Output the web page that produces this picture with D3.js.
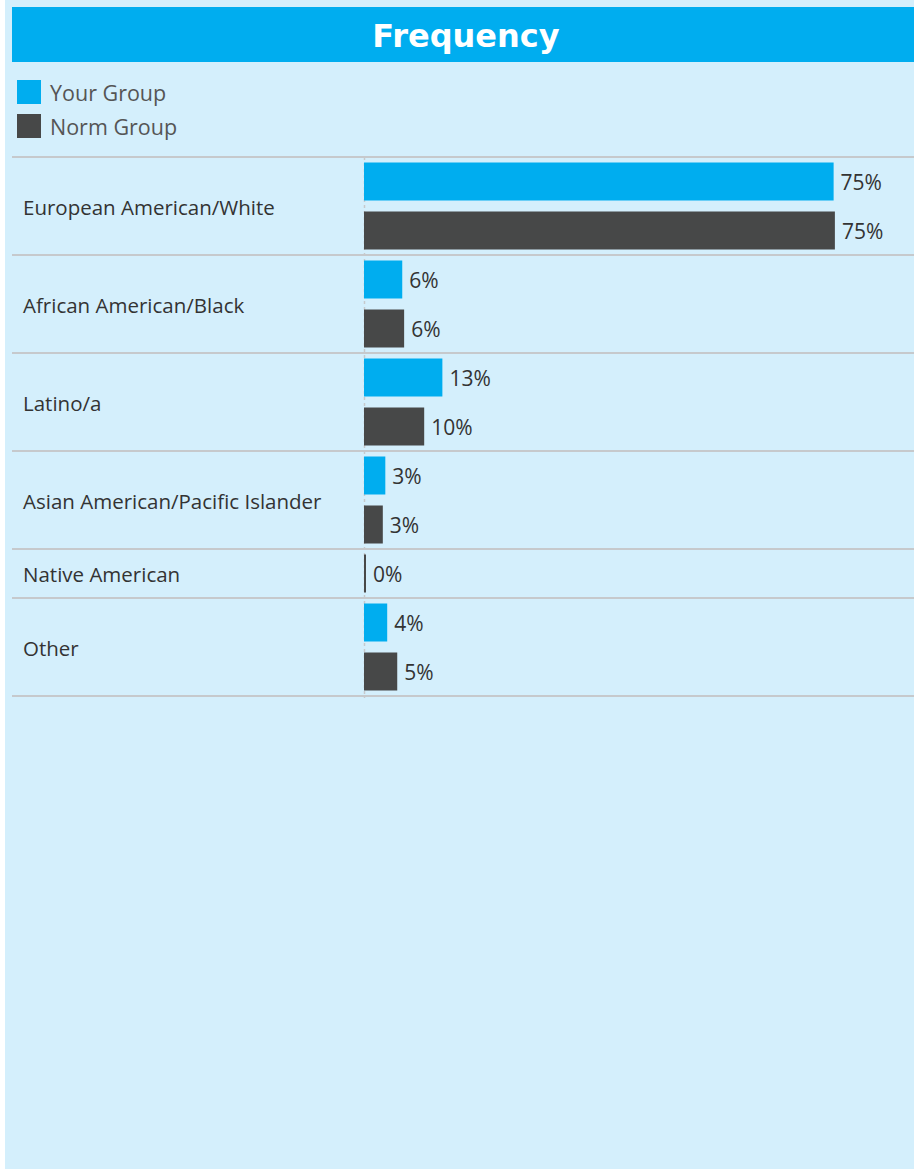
<!DOCTYPE html>
<html>
<head>
<meta charset="utf-8">
<script src="https://cdn.jsdelivr.net/npm/d3@7"></script>
<style>
  html, body { margin: 0; padding: 0; background: #ffffff; }
  svg { display: block; }
</style>
</head>
<body>
<svg id="chart" width="914" height="1169"></svg>
<script>
// ---- data ----
const title = "Frequency";
const groups = ["Your Group", "Norm Group"];
const categories = [
  "European American/White",
  "African American/Black",
  "Latino/a",
  "Asian American/Pacific Islander",
  "Native American",
  "Other"
];
// null = no bar / no row for that group
const yourGroup = [0.749, 0.061, 0.125, 0.034, null, 0.037];
const normGroup = [0.751, 0.064, 0.096, 0.030, 0.003, 0.053];

// ---- style ----
const colors = { "Your Group": "#00adef", "Norm Group": "#474848" };
const bg = "#d4effc";
const font = "'Open Sans', 'Noto Sans', sans-serif";

const svg = d3.select("#chart");
const W = 914, H = 1169;

svg.append("rect").attr("x", 5).attr("y", 0).attr("width", W - 5).attr("height", H).attr("fill", bg);

// header
svg.append("rect").attr("x", 12).attr("y", 7).attr("width", W - 12).attr("height", 55).attr("fill", "#00adef");
svg.append("text").attr("x", 466).attr("y", 35.5).attr("dy", "0.36em")
  .attr("text-anchor", "middle").attr("fill", "#ffffff")
  .attr("font-family", "'DejaVu Sans', Verdana, sans-serif").attr("font-weight", "bold")
  .attr("font-size", 32).text(title);

// legend
const legend = svg.append("g");
groups.forEach((g, i) => {
  legend.append("rect").attr("x", 17).attr("y", 80 + i * 34).attr("width", 24).attr("height", 24).attr("fill", colors[g]);
  legend.append("text").attr("x", 50).attr("y", 93 + i * 34).attr("dy", "0.36em")
    .attr("fill", "#555555").attr("font-family", font).attr("font-size", 21.5).text(g);
});

// build sub-rows
const rows = [];
categories.forEach((c, i) => {
  const vals = [yourGroup[i], normGroup[i]];
  groups.forEach((g, j) => {
    if (vals[j] !== null) rows.push({ cat: c, group: g, value: vals[j], key: c + "|" + g });
  });
});

const plotTop = 157, step = 49;
const plotBottom = plotTop + rows.length * step;
const y = d3.scaleBand().domain(rows.map(r => r.key)).range([plotTop, plotBottom])
  .paddingInner(11 / 49).paddingOuter(5.5 / 49);
const x0 = 364;
const x = d3.scaleLinear().domain([0, 1]).range([x0, x0 + 627]);

// category extents
const catBounds = categories.map(c => {
  const rs = rows.filter(r => r.cat === c);
  return {
    cat: c,
    y0: plotTop + rows.indexOf(rs[0]) * y.step(),
    y1: plotTop + (rows.indexOf(rs[rs.length - 1]) + 1) * y.step()
  };
});

const grid = svg.append("g");
const lineYs = [plotTop].concat(catBounds.map(b => b.y1));
lineYs.forEach(ly => {
  grid.append("line").attr("x1", 12).attr("x2", W).attr("y1", ly).attr("y2", ly)
    .attr("stroke", "#c6c9cc").attr("stroke-width", 2);
});

// zero line (dashed)
svg.append("line").attr("x1", x(0) + 0.5).attr("x2", x(0) + 0.5).attr("y1", plotTop).attr("y2", plotBottom + 2)
  .attr("stroke", "#c6c9cc").attr("stroke-width", 1.5).attr("stroke-dasharray", "3,3");

// category labels
svg.append("g").selectAll("text").data(catBounds).join("text")
  .attr("x", 23).attr("y", d => (d.y0 + d.y1) / 2 + 1.5).attr("dy", "0.36em")
  .attr("fill", "#333333").attr("font-family", font).attr("font-size", 20.5)
  .text(d => d.cat);

// bars
svg.append("g").selectAll("rect").data(rows).join("rect")
  .attr("x", x(0)).attr("y", d => y(d.key))
  .attr("width", d => Math.max(2, x(d.value) - x(0)))
  .attr("height", y.bandwidth())
  .attr("fill", d => colors[d.group]);

// value labels
svg.append("g").selectAll("text").data(rows).join("text")
  .attr("x", d => Math.max(x(0) + 2, x(d.value)) + 7)
  .attr("y", d => y(d.key) + y.bandwidth() / 2 + 0.5).attr("dy", "0.36em")
  .attr("fill", "#333333").attr("font-family", font).attr("font-size", 21)
  .text(d => Math.round(d.value * 100) + "%");
</script>
</body>
</html>
